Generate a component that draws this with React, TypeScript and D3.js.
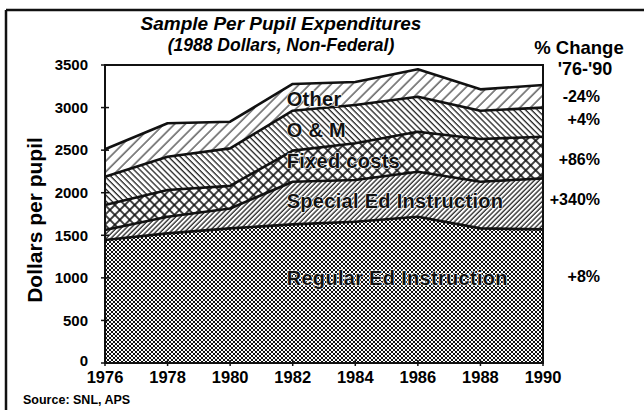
import React from "react";
import * as d3 from "d3";

const years = [1976, 1978, 1980, 1982, 1984, 1986, 1988, 1990];
const regularEd = [1444, 1522, 1581, 1628, 1659, 1718, 1581, 1569];
const specialEd = [118, 196, 234, 501, 490, 529, 548, 599];
const fixedCosts = [294, 314, 265, 365, 431, 470, 502, 490];
const oAndM = [332, 391, 441, 469, 450, 411, 332, 341];
const other = [322, 392, 313, 314, 270, 321, 251, 266];

const seriesKeys = ["regular", "special", "fixed", "om", "other"];
const seriesNames = ["Regular Ed Instruction", "Special Ed Instruction", "Fixed costs", "O & M", "Other"];
const pctChange = ["+8%", "+340%", "+86%", "+4%", "-24%"];
const yTicks = [0, 500, 1000, 1500, 2000, 2500, 3000, 3500];

const W = 644;
const H = 410;
const margin = { top: 65, right: 101, bottom: 47, left: 105 };
const FONT = "'Liberation Sans', Arial, Helvetica, sans-serif";

export default function App() {
  const innerW = W - margin.left - margin.right;
  const innerH = H - margin.top - margin.bottom;

  const x = d3.scaleLinear().domain([1976, 1990]).range([0, innerW]);
  const y = d3.scaleLinear().domain([0, 3500]).range([innerH, 0]);

  const table = years.map((yr, i) => ({
    year: yr,
    regular: regularEd[i],
    special: specialEd[i],
    fixed: fixedCosts[i],
    om: oAndM[i],
    other: other[i],
  }));
  const stacked = d3.stack<any>().keys(seriesKeys)(table);

  const area = d3
    .area<any>()
    .x((d) => x(d.data.year))
    .y0((d) => y(d[0]))
    .y1((d) => y(d[1]));
  const topLine = d3
    .line<any>()
    .x((d) => x(d.data.year))
    .y((d) => y(d[1]));

  const fills = ["url(#pat-check)", "url(#pat-fine)", "url(#pat-cross)", "url(#pat-back)", "url(#pat-wide)"];

  // label baselines in pixels inside the plot
  const labelPx = [285, 208, 168, 137, 106].map((v) => v - margin.top);
  const pctY = [282, 205, 165, 125, 102];

  return (
    <div style={{ position: "absolute", left: 0, top: 0 }}>
      <svg width={W} height={H} style={{ display: "block", background: "#fff", fontFamily: FONT }}>
        <defs>
          <pattern id="pat-check" patternUnits="userSpaceOnUse" width={4} height={4}>
            <rect width={4} height={4} fill="#fff" />
            <rect x={0} y={0} width={2} height={2} fill="#111" />
            <rect x={2} y={2} width={2} height={2} fill="#111" />
          </pattern>
          <pattern id="pat-fine" patternUnits="userSpaceOnUse" width={3.4} height={10} patternTransform="rotate(45)">
            <rect width={3.4} height={10} fill="#fff" />
            <line x1={1} y1={0} x2={1} y2={10} stroke="#111" strokeWidth={1.2} />
          </pattern>
          <pattern id="pat-back" patternUnits="userSpaceOnUse" width={4.2} height={10} patternTransform="rotate(-45)">
            <rect width={4.2} height={10} fill="#fff" />
            <line x1={1} y1={0} x2={1} y2={10} stroke="#111" strokeWidth={1.2} />
          </pattern>
          <pattern id="pat-wide" patternUnits="userSpaceOnUse" width={7.5} height={10} patternTransform="rotate(45)">
            <rect width={7.5} height={10} fill="#fff" />
            <line x1={1} y1={0} x2={1} y2={10} stroke="#111" strokeWidth={1} />
          </pattern>
          <pattern id="pat-cross" patternUnits="userSpaceOnUse" width={7} height={7} patternTransform="rotate(45)">
            <rect width={7} height={7} fill="#fff" />
            <line x1={1} y1={0} x2={1} y2={7} stroke="#111" strokeWidth={1.6} />
            <line x1={0} y1={1} x2={7} y2={1} stroke="#111" strokeWidth={1.6} />
          </pattern>
        </defs>

        {/* outer frame (top and left edge) */}
        <line x1={6} y1={10} x2={644} y2={10} stroke="#111" strokeWidth={2.5} />
        <line x1={6} y1={10} x2={6} y2={410} stroke="#111" strokeWidth={2.5} />

        <text x={281} y={30} textAnchor="middle" fontSize={19} fontWeight="bold" fontStyle="italic">
          Sample Per Pupil Expenditures
        </text>
        <text x={281} y={51} textAnchor="middle" fontSize={17.5} fontWeight="bold" fontStyle="italic">
          (1988 Dollars, Non-Federal)
        </text>
        <text x={579} y={54} textAnchor="middle" fontSize={18.5} fontWeight="bold">
          % Change
        </text>
        <text x={585} y={75} textAnchor="middle" fontSize={18} fontWeight="bold">
          '76-'90
        </text>

        <text
          transform={`translate(42,${margin.top + innerH / 2 + 6}) rotate(-90)`}
          textAnchor="middle"
          fontSize={21}
          fontWeight="bold"
        >
          Dollars per pupil
        </text>

        <g transform={`translate(${margin.left},${margin.top})`}>
          {stacked.map((s, i) => (
            <path key={s.key} d={area(s) || ""} fill={fills[i]} stroke="none" />
          ))}
          {stacked.map((s) => (
            <path key={s.key + "-l"} d={topLine(s) || ""} fill="none" stroke="#111" strokeWidth={2.6} strokeLinejoin="round" />
          ))}

          <rect x={0} y={0} width={innerW} height={innerH} fill="none" stroke="#111" strokeWidth={2} />

          {yTicks.map((t) => (
            <g key={t} transform={`translate(0,${y(t)})`}>
              <line x1={-4} x2={4} stroke="#111" strokeWidth={1.5} />
              <text x={-17} y={t === 0 ? -2 : 0} dy="0.35em" textAnchor="end" fontSize={15} fontWeight="bold">
                {t}
              </text>
            </g>
          ))}
          {years.map((yr) => (
            <g key={yr} transform={`translate(${x(yr)},${innerH})`}>
              <line y1={-3} y2={3} stroke="#111" strokeWidth={1.5} />
              <text y={20} textAnchor="middle" fontSize={16.5} fontWeight="bold">
                {yr}
              </text>
            </g>
          ))}

          {seriesNames.map((n, i) => (
            <text
              key={n}
              x={x(1982) - 6}
              y={labelPx[i]}
              fontSize={20}
              fontWeight="bold"
              fill="#111"
              stroke="#fff"
              strokeWidth={1.2}
              paintOrder="stroke"
              letterSpacing={0.3}
            >
              {n}
            </text>
          ))}
        </g>

        {pctChange.map((p, i) => (
          <text key={p} x={600} y={pctY[i]} textAnchor="end" fontSize={16} fontWeight="bold">
            {p}
          </text>
        ))}

        <text x={23} y={404} fontSize={12.5} fontWeight="bold">
          Source: SNL, APS
        </text>
      </svg>
    </div>
  );
}
